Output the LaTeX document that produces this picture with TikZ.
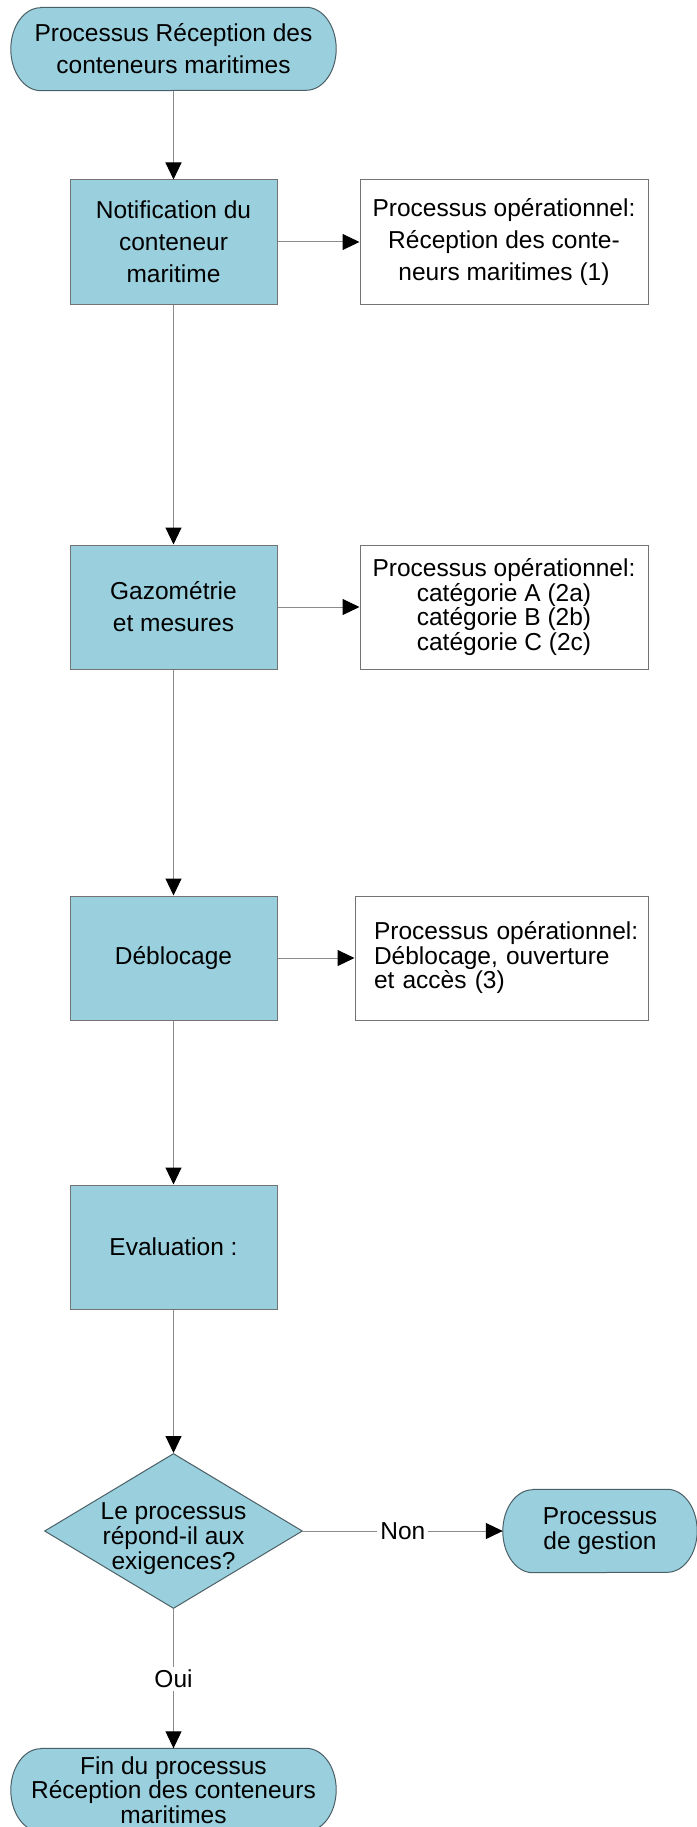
\documentclass[tikz,border=0pt]{standalone}
\usepackage{fontspec}
\setmainfont{Liberation Sans}
\usetikzlibrary{arrows.meta,shapes.geometric,backgrounds}
\definecolor{boxblue}{RGB}{154,208,222}
\definecolor{boxedge}{RGB}{115,115,115}
\definecolor{termedge}{RGB}{75,95,102}
\definecolor{linegray}{RGB}{140,140,140}
\begin{document}
\begin{tikzpicture}[x=1pt,y=-1pt,
  every node/.style={font=\fontsize{24.5}{32}\selectfont, inner sep=0pt},
  tight/.style={font=\fontsize{24.5}{24.5}\selectfont},
  proc/.style={rectangle, draw=boxedge, fill=boxblue, line width=1pt,
    minimum width=207pt, minimum height=124pt, align=center},
  note/.style={rectangle, draw=boxedge, fill=white, line width=1pt,
    minimum width=288pt, minimum height=124pt, align=center},
  termtext/.style={rectangle, draw=none, fill=none, align=center},
  termshape/.style={draw=termedge, fill=boxblue, line width=1pt},
  decision/.style={diamond, draw=termedge, fill=boxblue, line width=1pt,
    minimum width=258pt, minimum height=155pt, align=center},
  conn/.style={draw=linegray, line width=1pt,
    -{Triangle[width=16pt,length=17pt,color=black]}},
  lbl/.style={fill=white, inner sep=3pt}
]
\useasboundingbox (0,0) rectangle (696,1827);

% start terminal
\node[termtext, minimum width=325pt, minimum height=83pt] (start) at (173.5,49)
  {Processus Réception des\\conteneurs maritimes};

\node[proc] (n1) at (173.5,242) {Notification du\\conteneur\\maritime};
\node[note] (o1) at (504,242) {Processus opérationnel:\\Réception des conte-\\neurs maritimes (1)};

\node[proc] (n2) at (173.5,607) {Gazométrie\\et mesures};
\node[note, tight] (o2) at (504,607) {Processus opérationnel:\\catégorie A (2a)\\catégorie B (2b)\\catégorie C (2c)};

\node[proc] (n3) at (173.5,958) {Déblocage};
\node[note, tight, minimum width=293pt, text width=275pt, align=left,
      execute at begin node={\leftskip=10pt}] (o3) at (501.5,958)
  {Processus opérationnel:\\Déblocage, ouverture\\et accès (3)};

\node[proc] (n4) at (173.5,1247) {Evaluation :};

\node[decision, tight] (dec) at (173.5,1531)
  {\makebox[0pt]{\raisebox{-15pt}[0pt][0pt]{\begin{tabular}{@{}c@{}}Le processus\\répond-il aux\\exigences?\end{tabular}}}};

\node[termtext, tight, minimum width=194pt, minimum height=83pt] (gest) at (600,1531)
  {Processus\\de gestion};

\node[termtext, tight, minimum width=325pt, minimum height=83pt] (end) at (173.5,1790)
  {Fin du processus\\Réception des conteneurs\\maritimes};

\begin{scope}[on background layer]
  \foreach \t/\r in {start/30pt, gest/30pt, end/30pt}{
    \draw[termshape] ([xshift=\r]\t.north west) -- ([xshift=-\r]\t.north east)
      arc[start angle=90, end angle=-90, x radius=\r, y radius=41.5pt]
      -- ([xshift=\r]\t.south west)
      arc[start angle=270, end angle=90, x radius=\r, y radius=41.5pt] -- cycle;
  }
\end{scope}

% connectors
\draw[conn] (start.south) -- (n1.north);
\draw[conn] (n1.south) -- (n2.north);
\draw[conn] (n2.south) -- (n3.north);
\draw[conn] (n3.south) -- (n4.north);
\draw[conn] (n4.south) -- (dec.north);
\draw[conn] (n1.east) -- (o1.west);
\draw[conn] (n2.east) -- (o2.west);
\draw[conn] (n3.east) -- (o3.west);
\draw[conn] (dec.east) -- node[lbl] (non) {Non} (gest.west);
\draw[conn] (dec.south) -- node[lbl] (oui) {Oui} (end.north);
\end{tikzpicture}
\end{document}
